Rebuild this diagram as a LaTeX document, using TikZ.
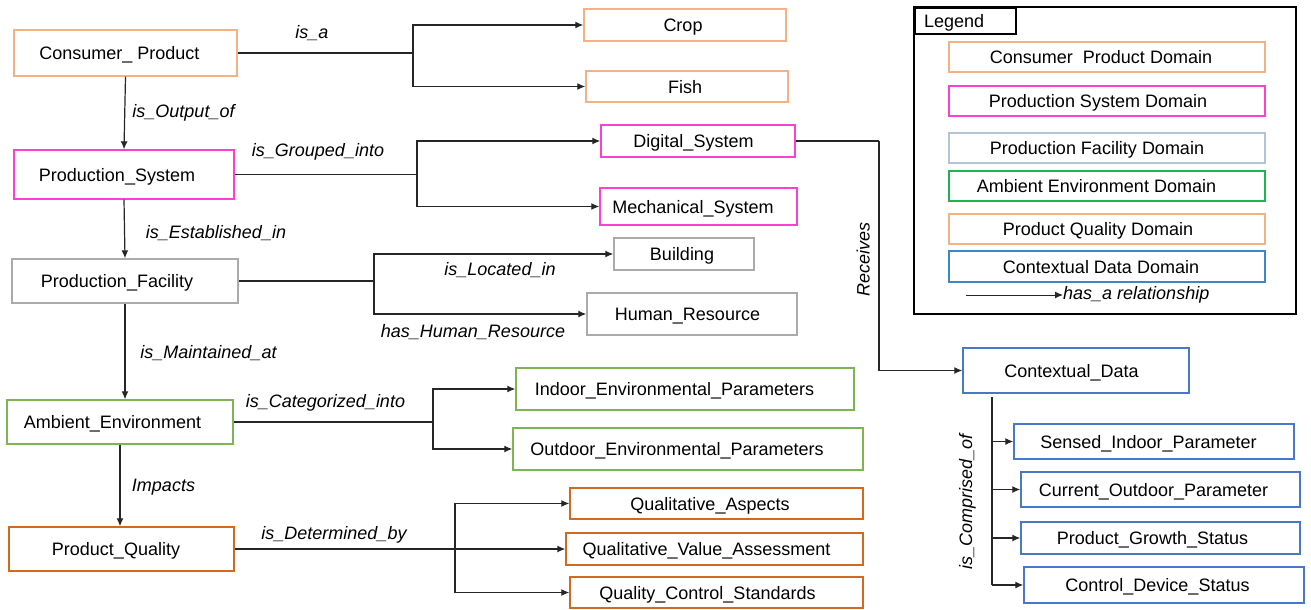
\documentclass[tikz,border=0pt]{standalone}
\usepackage{fontspec}
\setmainfont{Liberation Sans}
\usetikzlibrary{arrows.meta}

\definecolor{cpOrange}{HTML}{F4B183}
\definecolor{psMagenta}{HTML}{FF3FD2}
\definecolor{pfGray}{HTML}{ABABAB}
\definecolor{pfLegend}{HTML}{B4C3D8}
\definecolor{aeGreen}{HTML}{7CB552}
\definecolor{aeLegend}{HTML}{1DB454}
\definecolor{pqOrange}{HTML}{D2691E}
\definecolor{cdBlue}{HTML}{4A78C8}
\definecolor{cdLegend}{HTML}{3C86CC}
\definecolor{wire}{HTML}{262626}

\tikzset{
  % text is centred on its capital height; 'pad' nudges it left by half the amount
  box/.style={draw, line width=1.4pt, inner sep=0pt, fill=white,
              text height=13pt, text depth=0pt,
              font=\fontsize{18}{21}\selectfont},
  pad/.style={execute at end node={\hspace*{#1}}},
  lbl/.style={inner sep=0pt, text height=13pt, text depth=0pt,
              font=\fontsize{18}{21}\selectfont\itshape},
  wireline/.style={draw=wire, line width=1.2pt},
  rel/.style={wireline, -{Latex[length=8pt,width=7pt]}},
}

\begin{document}
\begin{tikzpicture}[x=1pt,y=-1pt]
\useasboundingbox (0,0) rectangle (1311,610);

% ---- main chain of domains ----
\node[box, draw=cpOrange,  minimum width=223pt, minimum height=46pt, pad=12pt] (cp) at (125.5,53)  {Consumer\_ Product};
\node[box, draw=psMagenta, minimum width=220pt, minimum height=49pt, pad=14pt] (ps) at (124,174.5)  {Production\_System};
\node[box, draw=pfGray,    minimum width=226pt, minimum height=44pt, pad=16pt] (pf) at (125,281)    {Production\_Facility};
\node[box, draw=aeGreen,   minimum width=226pt, minimum height=44pt, pad=15pt] (ae) at (120,422)    {Ambient\_Environment};
\node[box, draw=pqOrange,  minimum width=225pt, minimum height=44pt, pad=11pt] (pq) at (121.5,549)  {Product\_Quality};

% ---- sub-concepts ----
\node[box, draw=cpOrange,  minimum width=202pt, minimum height=32pt, pad=4pt]  (crop) at (685,25)   {Crop};
\node[box, draw=cpOrange,  minimum width=202pt, minimum height=31pt, pad=4pt]  (fish) at (687,86.5) {Fish};
\node[box, draw=psMagenta, minimum width=194pt, minimum height=32pt, pad=9pt]  (dig)  at (698,141)  {Digital\_System};
\node[box, draw=psMagenta, minimum width=197pt, minimum height=37pt, pad=11pt] (mech) at (698.5,206.5) {Mechanical\_System};
\node[box, draw=pfGray,    minimum width=140pt, minimum height=32pt, pad=4pt]  (bld)  at (684,254)  {Building};
\node[box, draw=pfGray,    minimum width=210pt, minimum height=42pt, pad=9pt]  (hr)   at (692,314)  {Human\_Resource};
\node[box, draw=aeGreen,   minimum width=338pt, minimum height=42pt, pad=21pt] (ind)  at (685,389)  {Indoor\_Environmental\_Parameters};
\node[box, draw=aeGreen,   minimum width=350pt, minimum height=42pt, pad=22pt] (outd) at (688,449)  {Outdoor\_Environmental\_Parameters};
\node[box, draw=pqOrange,  minimum width=293pt, minimum height=31pt, pad=13pt] (qa)   at (716.5,503.5) {Qualitative\_Aspects};
\node[box, draw=pqOrange,  minimum width=297pt, minimum height=32pt, pad=16pt] (qva)  at (714.5,549)   {Qualitative\_Value\_Assessment};
\node[box, draw=pqOrange,  minimum width=293pt, minimum height=31pt, pad=18pt] (qcs)  at (716.5,592.5) {Quality\_Control\_Standards};

% ---- contextual data ----
\node[box, draw=cdBlue, minimum width=226pt, minimum height=45pt, pad=9pt]  (cd)  at (1076,370.5)  {Contextual\_Data};
\node[box, draw=cdBlue, minimum width=280pt, minimum height=35pt, pad=11pt] (sip) at (1154,441.5)  {Sensed\_Indoor\_Parameter};
\node[box, draw=cdBlue, minimum width=279pt, minimum height=35pt, pad=14pt] (cop) at (1160.5,489.5) {Current\_Outdoor\_Parameter};
\node[box, draw=cdBlue, minimum width=279pt, minimum height=32pt, pad=16pt] (pgs) at (1160.5,538)  {Product\_Growth\_Status};
\node[box, draw=cdBlue, minimum width=280pt, minimum height=36pt, pad=13pt] (cds) at (1164,585)    {Control\_Device\_Status};

% ---- vertical relations ----
\draw[rel] (cp.south) -- (ps.north);
\draw[rel] (ps.south) -- (pf.north);
\draw[rel] (pf.south) -- (pf.south |- ae.north);
\draw[rel] (ae.south) -- (ae.south |- pq.north);

\node[lbl] (lOut) at (183.5,111) {is\_Output\_of};
\node[lbl] (lEst) at (216,232)   {is\_Established\_in};
\node[lbl] (lMai) at (208.5,351.5) {is\_Maintained\_at};
\node[lbl] (lImp) at (163.5,484.5) {Impacts};

% ---- branching relations ----
\coordinate (jcp) at (413,53);
\draw[wireline] (cp.east) -- (jcp);
\draw[rel] (jcp) |- (crop.west);
\draw[rel] (jcp) |- (fish.west);
\node[lbl] (lIsa) at (312,32.5) {is\_a};

\coordinate (jps) at (417,174.5);
\draw[wireline] (ps.east) -- (jps);
\draw[rel] (jps) |- (dig.west);
\draw[rel] (jps) |- (mech.west);
\node[lbl] (lGrp) at (318,150) {is\_Grouped\_into};

\coordinate (jpf) at (374,281);
\draw[wireline] (pf.east) -- (jpf);
\draw[rel] (jpf) |- (bld.west);
\draw[rel] (jpf) |- (hr.west);
\node[lbl] (lLoc) at (500,268.5) {is\_Located\_in};
\node[lbl] (lHum) at (473,330.5) {has\_Human\_Resource};

\coordinate (jae) at (433,422);
\draw[wireline] (ae.east) -- (jae);
\draw[rel] (jae) |- (ind.west);
\draw[rel] (jae) |- (outd.west);
\node[lbl] (lCat) at (325.5,400.5) {is\_Categorized\_into};

\coordinate (jpq) at (455,549);
\draw[wireline] (pq.east) -- (jpq);
\draw[rel] (jpq) |- (qa.west);
\draw[rel] (jpq) -- (qva.west);
\draw[rel] (jpq) |- (qcs.west);
\node[lbl] (lDet) at (334,532.5) {is\_Determined\_by};

% ---- digital system feeds contextual data ----
\coordinate (jdg) at (879,141);
\draw[wireline] (dig.east) -- (jdg);
\draw[rel] (jdg) |- (cd.west);
\node[lbl, rotate=90] (lRec) at (863,259) {Receives};

\coordinate (jcdT) at (992,397);
\coordinate (jcdB) at (992,585);
\draw[wireline] (jcdT) -- (jcdB);
\draw[rel] (jcdT |- sip.west) -- (sip.west);
\draw[rel] (jcdT |- cop.west) -- (cop.west);
\draw[rel] (jcdT |- pgs.west) -- (pgs.west);
\draw[rel] (jcdB) -- (cds.west);
\node[lbl, rotate=90] (lCmp) at (965.5,502) {is\_Comprised\_of};

% ---- legend ----
\draw[line width=2.2pt] (914,7) rectangle (1296,314);
\node[draw, line width=2.2pt, anchor=north west, minimum height=26pt,
      inner xsep=9pt, inner ysep=0pt, text width=83pt, align=left,
      text height=13pt, text depth=0pt,
      font=\fontsize{18}{21}\selectfont] (legtab) at (914,7) {Legend};

\node[box, draw=cpOrange,  minimum width=316pt, minimum height=30pt, pad=12pt] (kcp) at (1107,57)    {Consumer~~Product Domain};
\node[box, draw=psMagenta, minimum width=316pt, minimum height=30pt, pad=18pt] (kps) at (1107,101)   {Production System Domain};
\node[box, draw=pfLegend,  minimum width=316pt, minimum height=30pt, pad=20pt] (kpf) at (1107,148)   {Production Facility Domain};
\node[box, draw=aeLegend,  minimum width=316pt, minimum height=30pt, pad=21pt] (kae) at (1107,186)   {Ambient Environment Domain};
\node[box, draw=cpOrange,  minimum width=316pt, minimum height=30pt, pad=18pt] (kpq) at (1107,229)   {Product Quality Domain};
\node[box, draw=cdLegend,  minimum width=316pt, minimum height=31pt, pad=12pt] (kcd) at (1107,266.5) {Contextual Data Domain};

\coordinate (krs) at (966,295);
\node[lbl, anchor=west] (krt) at (1063,293) {has\_a relationship};
\draw[wireline, line width=1pt, -{Latex[length=8pt,width=7pt]}] (krs) -- (krs -| krt.west);
\end{tikzpicture}
\end{document}
